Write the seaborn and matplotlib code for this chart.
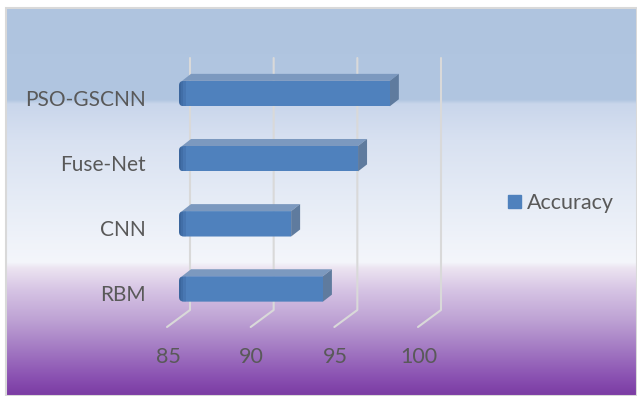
import numpy as np
import pandas as pd
import matplotlib
matplotlib.use("Agg")
import matplotlib.pyplot as plt
import matplotlib.transforms as mtransforms
from matplotlib.patches import Polygon, FancyBboxPatch, Rectangle, Patch
from matplotlib.lines import Line2D
import seaborn as sns

# ---- data ----
models = ["PSO-GSCNN", "Fuse-Net", "CNN", "RBM"]
accuracy = [97.6, 95.7, 91.7, 93.6]
x_ticks = [85, 90, 95, 100]
series_name = "Accuracy"

sns.set_theme(style="white")
plt.rcParams["font.family"] = ["Lato", "DejaVu Sans"]

W, H = 637, 396
fig = plt.figure(figsize=(W / 100, H / 100), dpi=100)
fig.patch.set_facecolor("white")

# ---- gradient background ----
bg = fig.add_axes([6 / W, 0, 1 - 6 / W, (H - 8) / H])
rows = np.arange(8, H) + 0.5
stops_y = [8, 100, 104, 140, 200, 262, 268, 290, 320, 350, 375, 396]
stops_c = ["#AFC4DF", "#B1C6E1", "#C9D6EB", "#D8E1F1", "#E6ECF6", "#F4F6FB",
           "#ECE4F1", "#D6C4E4", "#BEA2D4", "#A278C2", "#8C54B3", "#7A3AA3"]
rgb = np.array([matplotlib.colors.to_rgb(c) for c in stops_c])
img = np.stack([np.interp(rows, stops_y, rgb[:, k]) for k in range(3)], axis=-1)[:, None, :]
bg.imshow(img, aspect="auto", extent=[0, 1, 0, 1], interpolation="bilinear")
bg.axis("off")
fig.add_artist(Rectangle((6 / W, 0), (W - 6) / W, (H - 8) / H, transform=fig.transFigure,
                         fill=False, ec="#D9D9D9", lw=1.5))

# ---- main axes ----
ax_top, ax_bot = 61, 321.5
ax = fig.add_axes([179 / W, (H - ax_bot) / H, 251 / W, (ax_bot - ax_top) / H])
ax.patch.set_alpha(0)
df = pd.DataFrame({"Model": models, series_name: accuracy})
sns.barplot(data=df, x=series_name, y="Model", orient="h", color="#4F81BD",
            saturation=1, width=0.39, ax=ax, zorder=3, linewidth=0, edgecolor="none")
ax.set_xlim(x_ticks[0], x_ticks[-1])
ax.set_ylim(len(models) - 0.5, -0.5)
for s in ax.spines.values():
    s.set_visible(False)
ax.set_xticks([]); ax.set_yticks([])
ax.set_xlabel(""); ax.set_ylabel("")

ident = mtransforms.IdentityTransform()
text_color = "#595959"

# back-wall gridlines with floor diagonals
for t in x_ticks:
    xf = ax.transData.transform((t, 0))[0]
    xb = xf + 11
    y_top = H - 58
    y_bot = H - 310
    ax.add_line(Line2D([xb, xb, xb - 23], [y_top, y_bot, y_bot - 17], transform=ident,
                       color="#D9D9D9", lw=1.5, clip_on=False, zorder=1))
    # tick labels
    ax.text(xf - 11, H - 357, str(t), transform=ident, ha="center", va="center",
            fontsize=15.5, color=text_color)

# category labels
for i, m in enumerate(models):
    yd = ax.transData.transform((x_ticks[0], i))[1]
    ax.text(179 - 33, yd - 6, m, transform=ident, ha="right", va="center",
            fontsize=15, color=text_color)

# 3D faces on bars
dx, dy = 9, 7
for p in ax.patches:
    x0 = max(p.get_x(), x_ticks[0])
    x1 = p.get_x() + p.get_width()
    (xl, ya), (xr, yb) = ax.transData.transform([(x0, p.get_y()), (x1, p.get_y() + p.get_height())])
    yt, ybm = max(ya, yb), min(ya, yb)
    top = Polygon([(xl + 3, yt), (xr, yt), (xr + dx, yt + dy), (xl + dx + 3, yt + dy)],
                  closed=True, transform=ident, fc="#7C99BF", ec="none", clip_on=False, zorder=2)
    side = Polygon([(xr, yt), (xr + dx, yt + dy), (xr + dx, ybm + dy), (xr, ybm)],
                   closed=True, transform=ident, fc="#5F7B9E", ec="none", clip_on=False, zorder=2)
    ax.add_patch(top); ax.add_patch(side)
    clip = FancyBboxPatch((xl, ybm), (xr - xl) + 20, yt - ybm,
                          boxstyle="round,pad=0,rounding_size=5", transform=ident)
    p.set_clip_path(clip)
    p.set_clip_on(True)
    for w, a in [(7, 0.18), (4, 0.22), (2, 0.25)]:
        r = Rectangle((xl, ybm), w, yt - ybm, transform=ident, fc="#2B4F80", alpha=a,
                      ec="none", zorder=4, clip_on=True)
        ax.add_patch(r)
        r.set_clip_path(clip)

# legend
ax.legend(handles=[Patch(color="#4F81BD", label=series_name)], loc="center left",
          bbox_to_anchor=(508 / W, 1 - 203 / H), bbox_transform=fig.transFigure,
          frameon=False, fontsize=15.5, handlelength=0.6, handleheight=0.6,
          handletextpad=0.3, borderpad=0, borderaxespad=0, labelcolor=text_color)

fig.savefig("out.png", dpi=100)
